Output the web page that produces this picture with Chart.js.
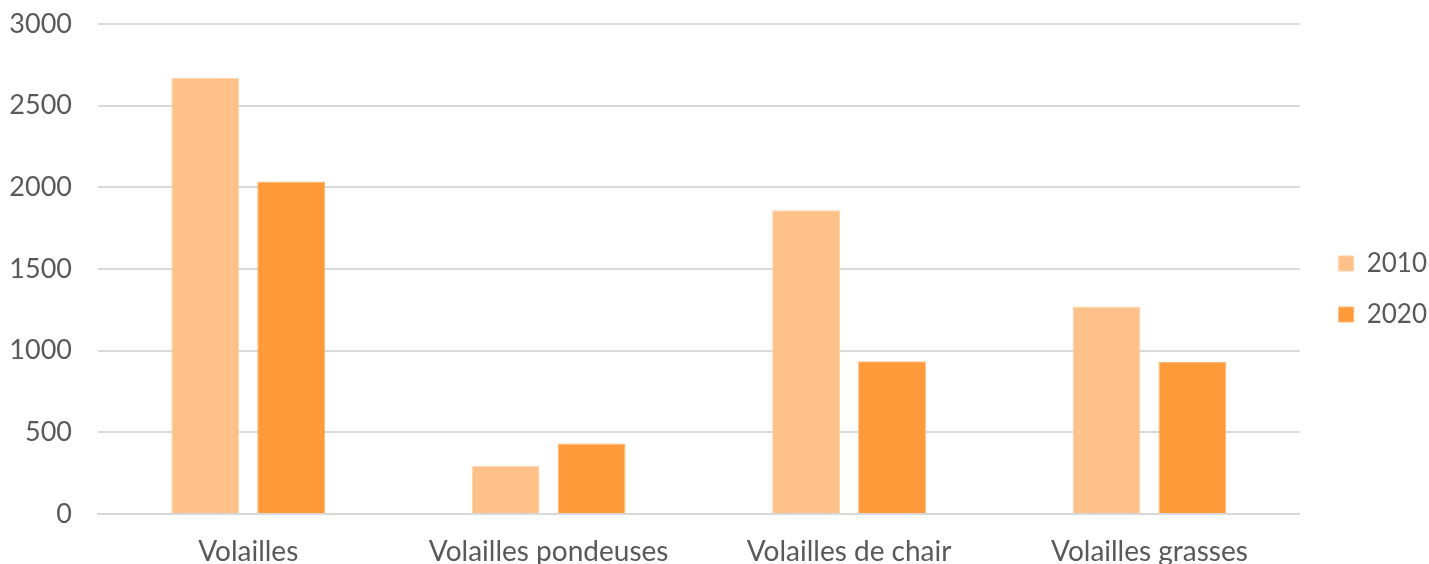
<!DOCTYPE html>
<html>
<head>
<meta charset="utf-8">
<script src="https://cdn.jsdelivr.net/npm/chart.js@4/dist/chart.umd.min.js"></script>
<style>
  html, body { margin: 0; padding: 0; background: #fff; }
  #wrap { width: 1429px; height: 564px; }
</style>
</head>
<body>
<div id="wrap"><canvas id="graf"></canvas></div>
<script>
// ===== DONNÉES =====
const categories = ["Volailles", "Volailles pondeuses", "Volailles de chair", "Volailles grasses"];
const annees = ["2010", "2020"];
const valeurs2010 = [2670, 295, 1860, 1270];
const valeurs2020 = [2035, 432, 935, 930];
const ticksY = [0, 500, 1000, 1500, 2000, 2500, 3000];

const couleurs = ["#FFC18A", "#FF9A3B"];
const bordures = ["#FFD3AD", "#FFB878"];

const police = "Lato, 'Open Sans', sans-serif";

// décale la légende (plus d'espace après la zone du graphique)
const decalageLegende = {
  id: "decalageLegende",
  afterLayout(chart) {
    chart.legend.left += 14; chart.legend.right += 14;
    chart.legend.top -= 5; chart.legend.bottom -= 5;
  }
};

new Chart(document.getElementById("graf"), {
  type: "bar",
  data: {
    labels: categories,
    datasets: [
      { label: annees[0], data: valeurs2010, backgroundColor: couleurs[0], borderColor: bordures[0], borderWidth: 1 },
      { label: annees[1], data: valeurs2020, backgroundColor: couleurs[1], borderColor: bordures[1], borderWidth: 1 }
    ]
  },
  plugins: [decalageLegende],
  options: {
    responsive: true,
    maintainAspectRatio: false,
    animation: false,
    categoryPercentage: 0.572,
    barPercentage: 0.79,
    layout: { padding: { left: 0, right: 6, top: 24, bottom: 0 } },
    plugins: {
      tooltip: { enabled: false },
      legend: {
        position: "right",
        labels: {
          boxWidth: 15,
          boxHeight: 15,
          padding: 25,
          color: "#595959",
          font: { family: police, size: 26 }
        }
      }
    },
    scales: {
      x: {
        grid: { display: false },
        border: { color: "#d9d9d9", width: 2 },
        afterFit: axe => { axe.height = 50; },
        ticks: { color: "#595959", padding: 13, maxRotation: 0, font: { family: police, size: 28 } }
      },
      y: {
        min: 0,
        max: 3000,
        afterBuildTicks: axe => { axe.ticks = ticksY.map(v => ({ value: v })); },
        afterFit: axe => { axe.width = 98; axe.paddingTop = 0; axe.paddingBottom = 0; },
        grid: { color: "#d9d9d9", lineWidth: 2, drawTicks: false },
        border: { display: false },
        ticks: { color: "#595959", padding: 26, callback: v => String(v), font: { family: police, size: 27 } }
      }
    }
  }
});
</script>
</body>
</html>
